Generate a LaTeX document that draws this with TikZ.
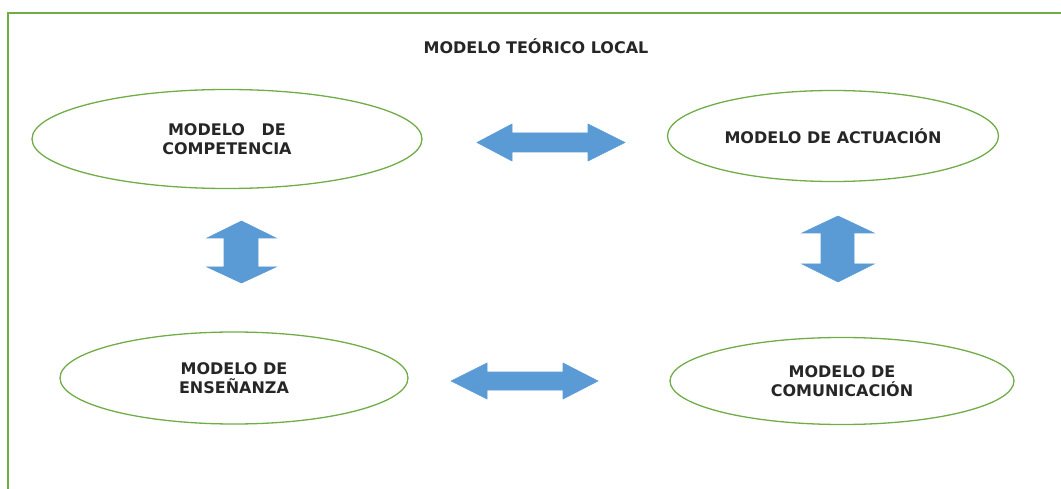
\documentclass[tikz,border=0pt]{standalone}
\usepackage{fontspec}
\setmainfont{DejaVu Sans}
\usepackage{tikz}
\usetikzlibrary{shapes.geometric}
\definecolor{verde}{HTML}{70AD47}
\definecolor{azul}{HTML}{5B9BD5}
\definecolor{texto}{HTML}{262626}
\tikzset{
    marco/.style={draw=verde, line width=1.5pt},
    titular/.style={text=texto, font=\bfseries\fontsize{16}{19}\selectfont},
    modelo/.style={ellipse, draw=verde, line width=1.3pt, inner sep=0pt, align=center,
        text=texto, font=\bfseries\fontsize{16}{19.5}\selectfont},
    flecha/.style={fill=azul, draw=azul, line width=0.6pt, line join=miter}
}

\begin{document}
\begin{tikzpicture}[x=1pt,y=-1pt]
	\useasboundingbox (0,0) rectangle (1061,489);
	\draw[marco] (8,13) rectangle (1075,500);
	\node[titular] (titulo) at (536,46) {MODELO TEÓRICO LOCAL};
	\node[modelo, minimum width=390pt, minimum height=99pt] (competencia) at (227,139) {MODELO~~~DE\\COMPETENCIA};
	\node[modelo, minimum width=331pt, minimum height=91pt] (actuacion) at (833,136) {MODELO DE ACTUACIÓN};
	\node[modelo, minimum width=348pt, minimum height=92pt] (ensenanza) at (234,378) {MODELO DE\\ENSEÑANZA};
	\node[modelo, minimum width=344pt, minimum height=87pt] (comunicacion) at (842,381) {MODELO DE\\COMUNICACIÓN};
	% flechas horizontales
	\draw[flecha] (477,142.5) -- (512,124) -- (512,133) -- (588,133) -- (588,124) -- (625,142.5)
		-- (588,161) -- (588,152) -- (512,152) -- (512,161) -- cycle;
	\draw[flecha] (451,381) -- (487,363) -- (487,372) -- (563,372) -- (563,363) -- (598,381)
		-- (563,399) -- (563,390) -- (487,390) -- (487,399) -- cycle;
	% flechas verticales
	\draw[flecha] (241.5,221) -- (276,238) -- (258,238) -- (258,267) -- (276,267) -- (241.5,283)
		-- (207,267) -- (224,267) -- (224,238) -- (207,238) -- cycle;
	\draw[flecha] (838,216) -- (874,233) -- (854,233) -- (854,264) -- (874,264) -- (838,282)
		-- (802,264) -- (821,264) -- (821,233) -- (802,233) -- cycle;
\end{tikzpicture}
\end{document}
